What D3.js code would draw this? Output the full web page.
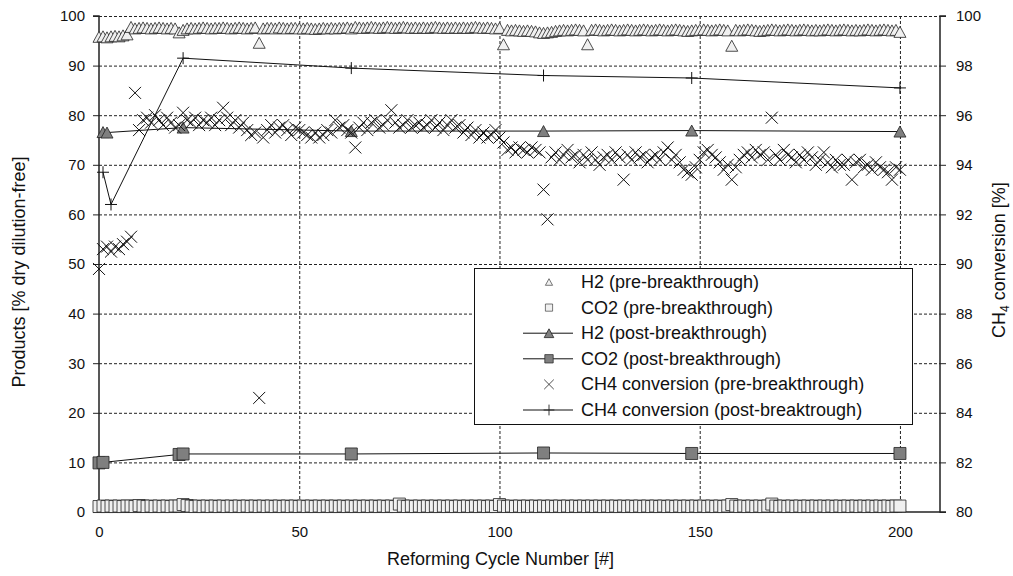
<!DOCTYPE html>
<html><head><meta charset="utf-8">
<script src="https://cdn.jsdelivr.net/npm/d3@7"></script>
<style>body{margin:0;background:#fff;}svg{display:block;font-family:"Liberation Sans",Arial,sans-serif;}</style>
</head><body><svg id="c" width="1013" height="576"></svg>
<script>
// ---- data ----
const xTicks = [0, 50, 100, 150, 200];
const yLeftTicks = [0, 10, 20, 30, 40, 50, 60, 70, 80, 90, 100];
const yRightTicks = [80, 82, 84, 86, 88, 90, 92, 94, 96, 98, 100];
const preCycles = d3.range(0, 201);
const h2Pre = [
95.8,95.9,95.7,95.9,96.0,95.9,96.1,96.3,97.8,97.5,
97.6,97.7,97.6,97.5,97.6,97.7,97.6,97.5,97.6,97.5,
96.7,97.2,97.5,97.6,97.5,97.6,97.7,97.6,97.5,97.6,
97.6,97.7,97.6,97.5,97.6,97.7,97.6,97.5,97.6,97.7,
94.6,97.5,97.6,97.6,97.5,97.7,97.6,97.5,97.6,97.6,
97.5,97.5,97.6,97.5,97.4,97.5,97.6,97.5,97.6,97.5,
97.6,97.6,97.7,97.5,97.8,97.7,97.6,97.7,97.8,97.7,
97.6,97.7,97.8,97.7,97.6,97.7,97.8,97.7,97.6,97.7,
97.6,97.7,97.6,97.7,97.8,97.7,97.6,97.7,97.6,97.7,
97.6,97.7,97.6,97.7,97.8,97.7,97.6,97.7,97.6,97.5,
97.6,94.3,97.2,97.1,97.2,97.1,97.0,97.1,97.0,96.9,
96.7,96.6,96.7,96.8,97.0,97.1,97.2,97.1,97.2,97.3,
97.2,97.1,94.3,97.2,97.3,97.2,97.1,97.2,97.3,97.2,
97.1,97.2,97.3,97.2,97.1,97.2,97.3,97.2,97.1,97.2,
97.3,97.2,97.1,97.2,97.3,97.2,97.1,97.0,97.1,97.2,
97.2,97.3,97.2,97.1,97.2,97.3,97.2,97.1,94.0,97.2,
97.1,97.2,97.3,97.2,97.1,97.0,97.1,97.2,97.3,97.2,
97.1,97.2,97.3,97.2,97.1,97.2,97.3,97.2,97.1,97.2,
97.1,97.2,97.3,97.2,97.1,97.2,97.3,97.2,97.1,97.2,
97.1,97.2,97.3,97.2,97.1,97.2,97.3,97.2,97.1,97.2,
96.8];
const co2Pre = [
1.1,1.2,1.1,1.2,1.1,1.2,1.1,1.2,1.2,1.1,
1.3,1.2,1.1,1.2,1.1,1.2,1.1,1.2,1.1,1.2,
1.2,1.5,1.3,1.2,1.1,1.2,1.1,1.2,1.1,1.2,
1.1,1.2,1.1,1.2,1.1,1.2,1.1,1.2,1.1,1.2,
1.1,1.2,1.1,1.2,1.1,1.2,1.1,1.2,1.1,1.2,
1.1,1.2,1.1,1.2,1.1,1.2,1.1,1.2,1.1,1.2,
1.1,1.2,1.1,1.2,1.1,1.2,1.1,1.2,1.1,1.2,
1.1,1.2,1.1,1.2,1.1,1.6,1.2,1.1,1.2,1.1,
1.2,1.1,1.2,1.1,1.2,1.1,1.2,1.1,1.2,1.1,
1.2,1.1,1.2,1.1,1.2,1.1,1.2,1.1,1.2,1.1,
1.5,1.2,1.1,1.2,1.1,1.2,1.1,1.2,1.1,1.2,
1.1,1.2,1.1,1.2,1.1,1.2,1.1,1.2,1.1,1.2,
1.1,1.2,1.1,1.2,1.1,1.2,1.1,1.2,1.1,1.2,
1.1,1.2,1.1,1.2,1.1,1.2,1.1,1.2,1.1,1.2,
1.1,1.2,1.1,1.2,1.1,1.2,1.1,1.2,1.1,1.2,
1.1,1.2,1.1,1.2,1.1,1.2,1.1,1.2,1.5,1.2,
1.1,1.2,1.1,1.2,1.1,1.2,1.1,1.2,1.6,1.2,
1.1,1.2,1.1,1.2,1.1,1.2,1.1,1.2,1.1,1.2,
1.1,1.2,1.1,1.2,1.1,1.2,1.1,1.2,1.1,1.2,
1.1,1.2,1.1,1.2,1.1,1.2,1.1,1.2,1.1,1.2,
1.2];
const ch4Pre = [
89.8,90.6,90.7,90.5,90.7,90.6,90.8,90.9,91.1,96.9,
95.4,95.8,95.9,95.7,96.0,95.8,95.6,95.9,95.7,95.5,
95.6,96.1,95.8,95.7,95.9,95.6,95.8,95.7,95.9,95.6,
95.8,96.3,95.9,95.6,95.8,95.5,95.7,95.4,95.2,95.3,
84.6,95.1,95.4,95.6,95.3,95.5,95.6,95.4,95.2,95.5,
95.4,95.3,95.2,95.1,95.3,95.1,95.2,95.4,95.3,95.8,
95.5,95.6,95.4,95.3,94.7,95.5,95.7,95.4,95.7,95.8,
95.5,95.6,95.8,96.2,95.7,95.5,95.6,95.8,95.5,95.6,
95.7,95.5,95.6,95.8,95.5,95.7,95.4,95.6,95.8,95.5,
95.6,95.3,95.5,95.2,95.4,95.1,95.3,95.1,95.2,95.4,
95.1,94.9,94.6,94.7,94.5,94.7,94.6,94.5,94.7,94.6,
94.5,93.0,91.8,94.3,94.5,94.2,94.4,94.6,94.3,94.4,
94.1,94.4,94.2,94.5,94.2,94.0,94.3,94.4,94.2,94.5,
94.3,93.4,94.4,94.2,94.5,94.3,94.4,94.1,94.3,94.4,
94.2,94.5,94.7,94.2,94.4,94.1,93.8,93.7,93.6,93.9,
94.2,94.5,94.6,94.4,94.3,94.1,93.8,94.0,93.4,93.9,
94.2,94.4,94.5,94.3,94.6,94.4,94.5,94.2,95.9,94.4,
94.2,94.6,94.4,94.3,94.1,94.4,94.2,94.5,94.3,94.0,
94.2,94.5,94.1,93.9,94.2,94.0,94.0,94.2,93.4,94.1,
94.2,93.9,94.0,93.8,94.1,93.9,93.8,93.7,93.4,93.9,
93.8];
const h2PostCycles = [1, 2, 21, 63, 111, 148, 200];
const h2Post = [76.6, 76.5, 77.5, 76.8, 76.8, 76.9, 76.7];
const co2PostCycles = [0, 1, 20, 21, 63, 111, 148, 200];
const co2Post = [9.9, 10.0, 11.6, 11.7, 11.7, 11.9, 11.8, 11.8];
const ch4PostCycles = [1, 3, 21, 63, 111, 148, 200];
const ch4Post = [93.7, 92.4, 98.3, 97.9, 97.6, 97.5, 97.1];
const legendLabels = ["H2 (pre-breakthrough)", "CO2 (pre-breakthrough)", "H2 (post-breakthrough)",
  "CO2 (post-breakthrough)", "CH4 conversion (pre-breakthrough)", "CH4 conversion (post-breaktrough)"];

// ---- layout ----
const L = 99, R = 940, T = 16, B = 512;
const svg = d3.select("#c");
const x = d3.scaleLinear().domain([0, 210]).range([L, R]);
const yL = d3.scaleLinear().domain([0, 100]).range([B, T]);
const yR = d3.scaleLinear().domain([80, 100]).range([B, T]);

const triPath = "M0,-5.5L6,5.5L-6,5.5Z";
const sqPath = "M-6,-6H6V6H-6Z";
const crossPath = "M-6,-6L6,6M6,-6L-6,6";
const plusPath = "M-6,0H6M0,-6V6";
const greyFill = "#7f7f7f", whiteFill = "#f0f0f0", edge = "#222";

// gridlines
const g = svg.append("g");
g.selectAll(".hg").data(yLeftTicks.filter(v => v > 0)).enter().append("line")
  .attr("x1", L).attr("x2", R).attr("y1", d => yL(d) + 0.5).attr("y2", d => yL(d) + 0.5)
  .attr("stroke", "#222").attr("stroke-width", 1).attr("stroke-dasharray", "3,2");
g.selectAll(".vg").data(xTicks.filter(v => v > 0)).enter().append("line")
  .attr("x1", d => x(d) + 0.5).attr("x2", d => x(d) + 0.5).attr("y1", T).attr("y2", B)
  .attr("stroke", "#222").attr("stroke-width", 1).attr("stroke-dasharray", "3,2");

// axes
const axL = d3.axisLeft(yL).tickValues(yLeftTicks).tickSize(6).tickPadding(8);
const axR = d3.axisRight(yR).tickValues(yRightTicks).tickSize(6).tickPadding(10);
const axB = d3.axisBottom(x).tickValues(xTicks).tickSize(0).tickPadding(14);
function style(sel) {
  sel.select(".domain").attr("stroke", "#222").attr("stroke-width", 1.5);
  sel.selectAll(".tick line").attr("stroke", "#222");
  sel.selectAll("text").attr("font-size", 15).attr("fill", "#111")
    .attr("font-family", "'Liberation Sans', Arial, sans-serif");
}
svg.append("g").attr("transform", `translate(${L},0)`).call(axL).call(style)
  .select(".domain").attr("d", `M-6,${T}H0V${B}H-6`);
svg.append("g").attr("transform", `translate(${R},0)`).call(axR).call(style)
  .select(".domain").attr("d", `M6,${T}H0V${B}H6`);
svg.append("g").attr("transform", `translate(0,${B})`).call(axB).call(style)
  .select(".domain").attr("d", `M${L},0H${R}`);

// pre-breakthrough H2 triangles
const plot = svg.append("g");
plot.selectAll(".h2p").data(preCycles).enter().append("path")
  .attr("d", triPath).attr("transform", (c, i) => `translate(${x(c)},${yL(h2Pre[i])})`)
  .attr("fill", whiteFill).attr("stroke", edge).attr("stroke-width", 0.8);
plot.selectAll(".co2p").data(preCycles).enter().append("path")
  .attr("d", sqPath).attr("transform", (c, i) => `translate(${x(c)},${yL(co2Pre[i])})`)
  .attr("fill", whiteFill).attr("stroke", edge).attr("stroke-width", 0.8);

// post-breakthrough H2
const lineL = d3.line().x(d => x(d[0])).y(d => yL(d[1]));
const lineR = d3.line().x(d => x(d[0])).y(d => yR(d[1]));
const h2PostPts = h2PostCycles.map((c, i) => [c, h2Post[i]]);
plot.append("path").attr("d", lineL(h2PostPts)).attr("fill", "none").attr("stroke", "#111").attr("stroke-width", 1);
plot.selectAll(".h2q").data(h2PostPts).enter().append("path")
  .attr("d", triPath).attr("transform", d => `translate(${x(d[0])},${yL(d[1])})`)
  .attr("fill", greyFill).attr("stroke", edge).attr("stroke-width", 0.8);
const co2PostPts = co2PostCycles.map((c, i) => [c, co2Post[i]]);
plot.append("path").attr("d", lineL(co2PostPts)).attr("fill", "none").attr("stroke", "#111").attr("stroke-width", 1);
plot.selectAll(".co2q").data(co2PostPts).enter().append("path")
  .attr("d", sqPath).attr("transform", d => `translate(${x(d[0])},${yL(d[1])})`)
  .attr("fill", greyFill).attr("stroke", edge).attr("stroke-width", 0.8);

// CH4 conversion (secondary axis)
plot.selectAll(".ch4p").data(preCycles).enter().append("path")
  .attr("d", crossPath).attr("transform", (c, i) => `translate(${x(c)},${yR(ch4Pre[i])})`)
  .attr("fill", "none").attr("stroke", "#111").attr("stroke-width", 1);
const ch4PostPts = ch4PostCycles.map((c, i) => [c, ch4Post[i]]);
plot.append("path").attr("d", lineR(ch4PostPts)).attr("fill", "none").attr("stroke", "#111").attr("stroke-width", 1);
plot.selectAll(".ch4q").data(ch4PostPts).enter().append("path")
  .attr("d", plusPath).attr("transform", d => `translate(${x(d[0])},${yR(d[1])})`)
  .attr("fill", "none").attr("stroke", "#111").attr("stroke-width", 1);

// legend
const lg = svg.append("g");
lg.append("rect").attr("x", 474.5).attr("y", 268.5).attr("width", 438).attr("height", 156)
  .attr("fill", "#fff").attr("stroke", "#111").attr("stroke-width", 1);
const kinds = [
  {m: triPath, f: whiteFill, line: false, s: 0.6},
  {m: sqPath, f: whiteFill, line: false, s: 0.6},
  {m: triPath, f: greyFill, line: true, s: 0.8},
  {m: sqPath, f: greyFill, line: true, s: 0.7},
  {m: crossPath, f: "none", line: false, s: 0.8},
  {m: plusPath, f: "none", line: true, s: 0.9}
];
legendLabels.forEach((t, i) => {
  const cy = 282 + i * 25.6;
  if (kinds[i].line) lg.append("line").attr("x1", 523).attr("x2", 573).attr("y1", cy).attr("y2", cy)
    .attr("stroke", "#111").attr("stroke-width", 1);
  lg.append("path").attr("d", kinds[i].m).attr("transform", `translate(549,${cy}) scale(${kinds[i].s})`)
    .attr("fill", kinds[i].f).attr("stroke", "#222").attr("stroke-width", 1);
  lg.append("text").attr("x", 581).attr("y", cy + 6).attr("font-size", 18).attr("fill", "#111").text(t);
});

// axis titles
svg.append("text").attr("transform", `translate(25,${(T + B) / 2 + 8}) rotate(-90)`)
  .attr("text-anchor", "middle").attr("font-size", 18).attr("fill", "#111")
  .text("Products [% dry dilution-free]");
svg.append("text").attr("x", (L + R) / 2 - 19).attr("y", 565)
  .attr("text-anchor", "middle").attr("font-size", 18).attr("fill", "#111")
  .text("Reforming Cycle Number [#]");
const rt = svg.append("text").attr("transform", `translate(1005,${(T + B) / 2 - 4}) rotate(-90)`)
  .attr("text-anchor", "middle").attr("font-size", 18).attr("fill", "#111");
rt.append("tspan").text("CH");
rt.append("tspan").attr("font-size", 12).attr("dy", 4).text("4");
rt.append("tspan").attr("dy", -4).text(" conversion [%]");
</script></body></html>
